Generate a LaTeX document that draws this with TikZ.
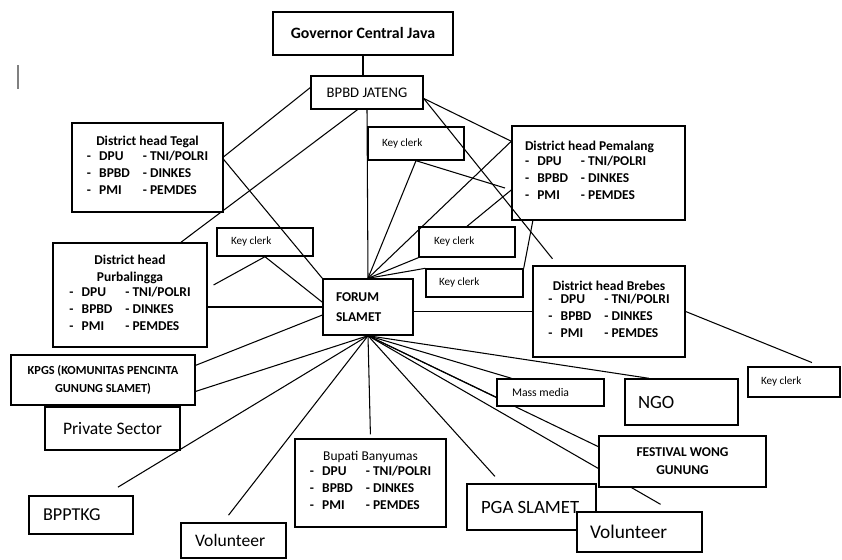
\documentclass[tikz,border=0pt]{standalone}
\usepackage{fontspec}
\setmainfont{Carlito}
\usetikzlibrary{backgrounds}

\newcommand{\staff}{%
  \begin{tabular}{@{}l@{\hspace{7pt}}l@{\hspace{11pt}}l@{}}
    - & DPU  & - TNI/POLRI\\
    - & BPBD & - DINKES\\
    - & PMI  & - PEMDES
  \end{tabular}}

\begin{document}
\begin{tikzpicture}
  [x=0.03cm,y=-0.03cm,
   box/.style={draw,line width=1.2pt,inner sep=0pt,align=center},
   wh/.style 2 args={minimum width=#1*0.03cm,minimum height=#2*0.03cm},
   lbox/.style n args={3}{box,wh={#1}{#2},inner xsep=#3*0.03cm,text width=(#1-2*#3)*0.03cm,align=flush left},
   opaque/.style={fill=white},
   link/.style={line width=0.9pt},
   head/.style={font=\fontsize{11.5}{14.5}\selectfont\bfseries},
   clerk/.style={font=\fontsize{9.5}{12}\selectfont},
   big/.style={font=\fontsize{16}{18}\selectfont}
  ]
  \useasboundingbox (0,0) rectangle (842,559);
  \draw[gray,line width=1pt] (18,65) -- (18,89);

  % province
  \node[box,wh={180}{43},font=\fontsize{13.5}{15}\selectfont\bfseries] (gov) at (363,33.5) {Governor Central Java};
  \node[box,wh={112}{33},font=\fontsize{12.5}{14}\selectfont] (bpbd) at (367,92.5) {BPBD JATENG};

  % district heads
  \node[box,head,wh={151}{89}] (tegal) at (147.5,167.5) {District head Tegal\\\staff};
  \node[lbox={173}{94}{13},head] (pml) at (598.5,173) {District head Pemalang\\\staff};
  \node[box,head,wh={152}{91}] (brebes) at (609,311.5) {District head Brebes\\\staff};
  \node[box,head,wh={154}{104}] (purb) at (130,295) {District head\\Purbalingga\\\staff};
  \node[box,head,wh={151}{88}] (bupati) at (370.5,483) {{\mdseries Bupati Banyumas}\\\staff};

  % key clerks
  \node[lbox={96}{33}{14},clerk] (kc1) at (416,143.5) {Key clerk};
  \node[lbox={96}{30}{15},clerk] (kc2) at (467,242) {Key clerk};
  \node[lbox={97}{28}{13},clerk] (kc3) at (474.5,283) {Key clerk};
  \node[lbox={92}{30}{13},clerk] (kc4) at (794,382) {Key clerk};
  \node[lbox={96}{28}{14},clerk] (kc5) at (265,242) {Key clerk};

  \node[lbox={90}{56}{13},font=\fontsize{11.5}{16.5}\selectfont\bfseries] (forum) at (368,307) {FORUM\\SLAMET};

  % others
  \node[box,wh={184}{50},font=\fontsize{10.5}{15}\selectfont\bfseries] (kpgs) at (103,380) {KPGS (KOMUNITAS PENCINTA\\GUNUNG SLAMET)};
  \node[box,wh={135}{43},font=\fontsize{15}{18}\selectfont] (priv) at (112.5,428.5) {Private Sector};
  \node[lbox={107}{27}{15},font=\fontsize{10}{12}\selectfont,opaque] (mass) at (550.5,392.5) {Mass media};
  \node[lbox={113}{46}{13},big] (ngo) at (681.5,402) {NGO};
  \node[box,opaque,wh={167}{51},font=\fontsize{11.5}{15.5}\selectfont\bfseries] (fest) at (682.5,461.5) {FESTIVAL WONG\\GUNUNG};
  \node[lbox={129}{46}{14},big] (pga) at (531.5,507) {PGA SLAMET};
  \node[lbox={125}{40}{13},font=\fontsize{16.5}{18}\selectfont,opaque] (vol2) at (639.5,532) {Volunteer};
  \node[lbox={104}{38}{14},font=\fontsize{15.5}{18}\selectfont] (bpptkg) at (81,515) {BPPTKG};
  \node[lbox={105}{35}{14},font=\fontsize{15}{17}\selectfont] (vol1) at (233.5,540.5) {Volunteer};

  \begin{pgfonlayer}{background}
    % above the forum
    \draw[link] (gov.south) -- (gov.south |- bpbd.north);
    \draw[link] (bpbd.175) -- (tegal.8);
    \draw[link] (bpbd.241) -- (purb.46);
    \draw[link] (bpbd.south) -- (forum.north);
    \draw[link] (bpbd.-6) -- (pml.160);
    \draw[link,shorten >=0.25cm] (bpbd.-6) -- (brebes.138);
    \draw[link] (tegal.6) -- (forum.north west);
    \draw[link] (kc1.south) -- (forum.north);
    \draw[link,shorten >=0.2cm] (kc1.south) -- (pml.191);
    \draw[link] (kc2.north) -- (pml.191);
    \draw[link] (kc2.south west) -- (forum.north);
    \draw[link] (kc3.north east) -- (pml.216);
    \draw[link] (kc3.north west) -- (forum.north);
    \draw[link] (forum.north) -- (pml.160);
    % sides
    \draw[link,shorten <=0.2cm] (purb.5) -- (kc5.south) -- (forum.174);
    \draw[link] (purb.east |- forum.west) -- (forum.west);
    \draw[link] (forum.east |- brebes.west) -- (brebes.west);
    \draw[link,shorten >=0.3cm] (brebes.east) -- (kc4.30);
    \draw[link] (forum.190) -- (kpgs.9);
    % below the forum
    \foreach \t/\s in {kpgs.353/0pt,bpptkg.40/0.47cm,vol1.120/0.27cm,bupati.north/0.12cm,
                       pga.142/0.28cm,vol2.32/0.42cm,fest.170/0pt,mass.185/0pt,mass.160/0pt,ngo.144/0pt}
      \draw[link,shorten >=\s] (forum.south) -- (\t);
  \end{pgfonlayer}

\end{tikzpicture}
\end{document}
